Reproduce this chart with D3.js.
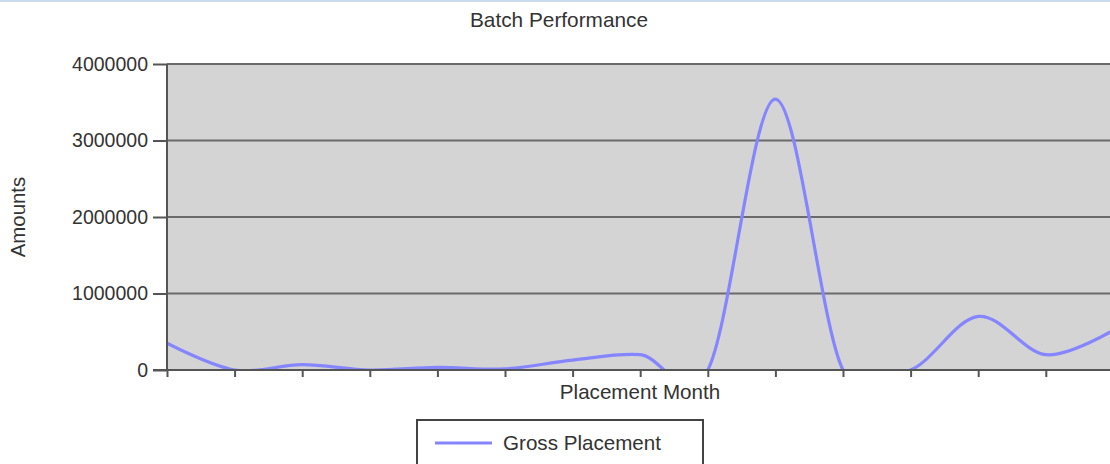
<!DOCTYPE html>
<html>
<head>
<meta charset="utf-8">
<script src="https://cdn.jsdelivr.net/npm/d3@7/dist/d3.min.js"></script>
<style>
html,body{margin:0;padding:0;background:#fff;overflow:hidden;}
svg{display:block;font-family:"Liberation Sans",Arial,sans-serif;}
</style>
</head>
<body>
<svg id="chart" width="1110" height="464"></svg>
<script>
const months = ["M1","M2","M3","M4","M5","M6","M7","M8","M9","M10","M11","M12","M13","M14","M15"];
const grossPlacement = [350000, 0, 70000, 0, 35000, 15000, 130000, 200000, 0, 3540000, 0, 0, 700000, 200000, 520000];
const yTicks = [0, 1000000, 2000000, 3000000, 4000000];
const title = "Batch Performance";
const xTitle = "Placement Month";
const yTitle = "Amounts";
const seriesName = "Gross Placement";

const svg = d3.select("#chart");
const W = 1110, H = 464;
const plotLeft = 167, plotTop = 64, plotBottom = 370;
const step = 67.6;
const plotRight = plotLeft + step * (months.length - 1);

// top border line
svg.append("rect").attr("x",0).attr("y",0).attr("width",W).attr("height",2).attr("fill","#c8dcee");

const x = d3.scalePoint().domain(months).range([plotLeft, plotRight]);
const y = d3.scaleLinear().domain([0, 4000000]).range([plotBottom, plotTop]);

// plot background
svg.append("rect").attr("x",plotLeft).attr("y",plotTop)
  .attr("width",plotRight-plotLeft+20).attr("height",plotBottom-plotTop)
  .attr("fill","#d4d4d4");

// gridlines
svg.append("g").selectAll("line").data(yTicks.filter(d=>d>0)).join("line")
  .attr("x1",plotLeft).attr("x2",plotRight+20)
  .attr("y1",d=>y(d)).attr("y2",d=>y(d))
  .attr("stroke","#6a6a6a").attr("stroke-width",2);

// clip
svg.append("clipPath").attr("id","clip").append("rect")
  .attr("x",plotLeft).attr("y",plotTop).attr("width",plotRight-plotLeft+20).attr("height",plotBottom-plotTop);

// line
const line = d3.line().x((d,i)=>x(months[i])).y(d=>y(d)).curve(d3.curveCardinal.tension(0));
svg.append("path").datum(grossPlacement)
  .attr("clip-path","url(#clip)")
  .attr("d",line).attr("fill","none")
  .attr("stroke","#8585ff").attr("stroke-width",3.2)
  .attr("stroke-linejoin","round");

// y axis
const yAxis = d3.axisLeft(y).tickValues(yTicks).tickSize(14).tickPadding(5).tickFormat(d3.format("d"));
const gy = svg.append("g").attr("transform",`translate(${plotLeft},0)`).call(yAxis);
gy.select(".domain").attr("stroke","#555").attr("stroke-width",2).attr("d",`M0,${plotTop}V${plotBottom}`);
gy.selectAll(".tick line").attr("stroke","#555").attr("stroke-width",2);
gy.selectAll(".tick text").attr("font-size",19.5).attr("fill","#333").attr("font-family","'Liberation Sans',Arial,sans-serif");

// x axis
const xAxis = d3.axisBottom(x).tickSize(7).tickFormat("");
const gx = svg.append("g").attr("transform",`translate(0,${plotBottom})`).call(xAxis);
gx.select(".domain").attr("stroke","#555").attr("stroke-width",2).attr("d",`M${plotLeft-14},0H${W}`);
gx.selectAll(".tick line").attr("stroke","#555").attr("stroke-width",2);

// titles
svg.append("text").attr("x",559).attr("y",27).attr("text-anchor","middle")
  .attr("font-size",20.8).attr("fill","#333").text(title);
svg.append("text").attr("x",640).attr("y",399).attr("text-anchor","middle")
  .attr("font-size",20.6).attr("fill","#333").text(xTitle);
svg.append("text").attr("transform","translate(25,217) rotate(-90)").attr("text-anchor","middle")
  .attr("font-size",20.4).attr("fill","#333").text(yTitle);

// legend
const lg = svg.append("g");
lg.append("rect").attr("x",417).attr("y",420).attr("width",286).attr("height",60)
  .attr("fill","#fff").attr("stroke","#444").attr("stroke-width",2);
lg.append("line").attr("x1",435).attr("x2",492).attr("y1",443).attr("y2",443)
  .attr("stroke","#8585ff").attr("stroke-width",3.2);
lg.append("text").attr("x",503).attr("y",450).attr("font-size",20.6).attr("fill","#333").text(seriesName);
</script>
</body>
</html>
